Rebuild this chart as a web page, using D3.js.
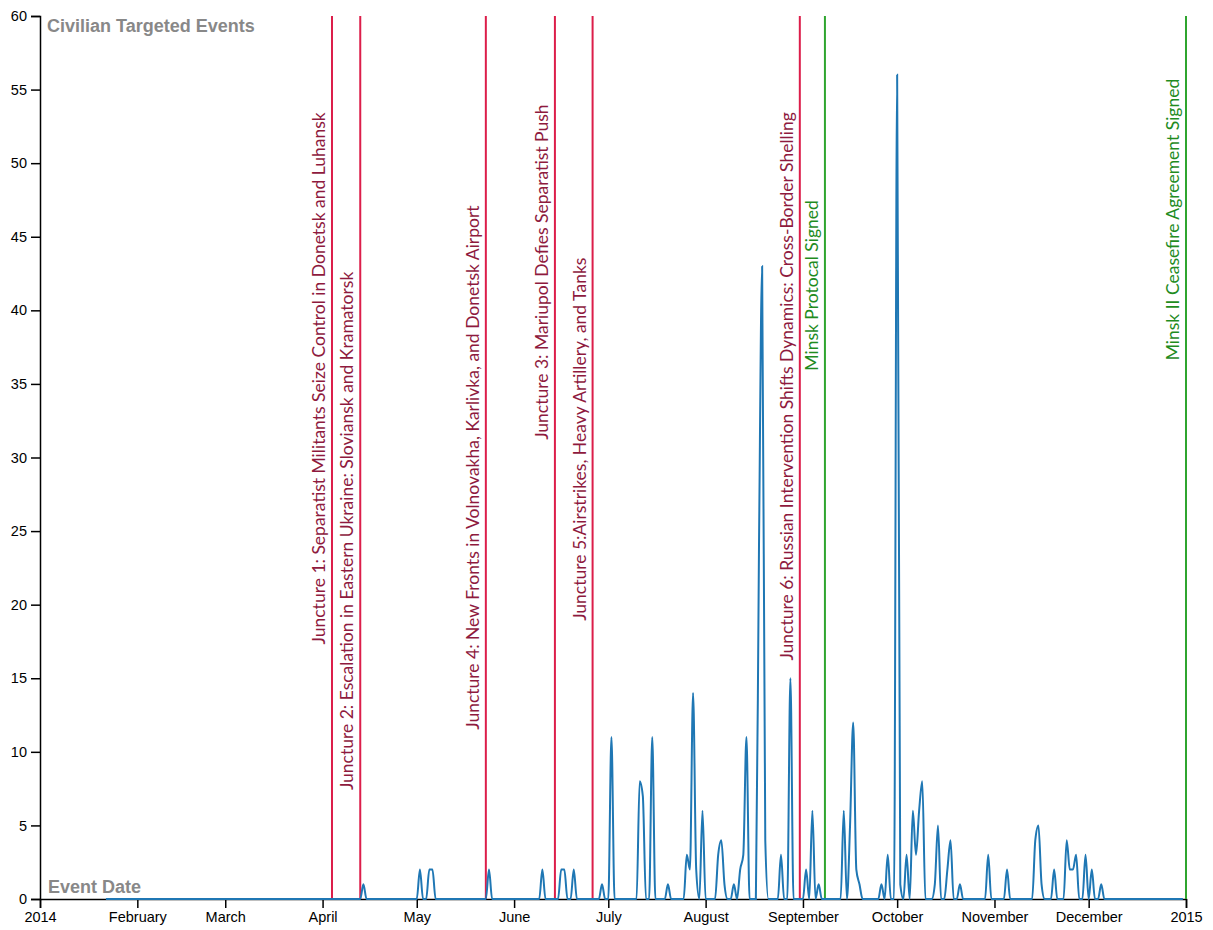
<!DOCTYPE html>
<html>
<head>
<meta charset="utf-8">
<script src="https://cdn.jsdelivr.net/npm/d3@7"></script>
<style>
  html, body { margin: 0; padding: 0; background: #fff; }
  svg { display: block; }
</style>
</head>
<body>
<svg id="chart" width="1213" height="930"></svg>
<script>
// ---------------- data ----------------
const seriesStart = "2014-01-22";
const seriesEnd = "2014-12-31";

const eventDays = [
  "2014-04-14","2014-05-02","2014-05-05","2014-05-06","2014-05-24","2014-06-10",
  "2014-06-16","2014-06-17","2014-06-20","2014-06-29","2014-07-02","2014-07-11",
  "2014-07-12","2014-07-15","2014-07-20","2014-07-26","2014-07-27","2014-07-28",
  "2014-07-29","2014-07-31","2014-08-05","2014-08-06","2014-08-07","2014-08-10",
  "2014-08-12","2014-08-13","2014-08-14","2014-08-18","2014-08-19","2014-08-20",
  "2014-08-25","2014-08-28","2014-09-02","2014-09-04","2014-09-06","2014-09-14",
  "2014-09-16","2014-09-17","2014-09-18","2014-09-19","2014-09-26","2014-09-28",
  "2014-10-01","2014-10-02","2014-10-04","2014-10-06","2014-10-07","2014-10-08",
  "2014-10-09","2014-10-13","2014-10-14","2014-10-17","2014-10-18","2014-10-21",
  "2014-10-30","2014-11-05","2014-11-14","2014-11-15","2014-11-16","2014-11-20",
  "2014-11-24","2014-11-25","2014-11-26","2014-11-27","2014-11-30","2014-12-02",
  "2014-12-05"
];
const eventCounts = [
  1, 2, 2, 2, 2, 2,
  2, 2, 2, 1, 11, 8,
  7, 11, 1, 3, 2, 14,
  2, 6, 3, 4, 1, 1,
  2, 3, 11, 24, 43, 4,
  3, 15, 2, 6, 1, 6,
  5, 12, 2, 1, 1, 3,
  56, 1, 3, 6, 3, 6,
  8, 1, 5, 2, 4, 1,
  3, 2, 4, 5, 1, 2,
  4, 2, 2, 3, 3, 2,
  1
];

const markerDates = ["2014-04-04","2014-04-13","2014-05-23","2014-06-14","2014-06-26","2014-08-31","2014-09-08","2015-01-01"];
const markerLabels = [
  "Juncture 1: Separatist Militants Seize Control in Donetsk and Luhansk",
  "Juncture 2: Escalation in Eastern Ukraine: Sloviansk and Kramatorsk",
  "Juncture 4: New Fronts in Volnovakha, Karlivka, and Donetsk Airport",
  "Juncture 3: Mariupol Defies Separatist Push",
  "Juncture 5:Airstrikes, Heavy Artillery, and Tanks",
  "Juncture 6: Russian Intervention Shifts Dynamics: Cross-Border Shelling",
  "Minsk Protocal Signed",
  "Minsk II Ceasefire Agreement Signed"
];
const markerKinds = ["juncture","juncture","juncture","juncture","juncture","juncture","agreement","agreement"];

const xDomain = ["2014-01-01", "2015-01-01"];
const yDomain = [0, 60];
const xTickDates = ["2014-01-01","2014-02-01","2014-03-01","2014-04-01","2014-05-01","2014-06-01","2014-07-01","2014-08-01","2014-09-01","2014-10-01","2014-11-01","2014-12-01","2015-01-01"];
const xTickLabels = ["2014","February","March","April","May","June","July","August","September","October","November","December","2015"];
const yTickValues = [0,5,10,15,20,25,30,35,40,45,50,55,60];
const yAxisTitle = "Civilian Targeted Events";
const xAxisTitle = "Event Date";

// ---------------- layout (not data) ----------------
const labelStartValues = [17.3, 7.4, 11.5, 31.2, 18.9, 16.2, 35.9, 36.6]; // where each rotated label begins, in y units
const margin = { left: 40, right: 27, top: 16, bottom: 31 };
const W = 1213, H = 930;

const parse = d3.utcParse("%Y-%m-%d");

// daily table: days without events count as zero
const countByDay = new Map(eventDays.map((d, i) => [+parse(d), eventCounts[i]]));
const days = d3.utcDay.range(parse(seriesStart), d3.utcDay.offset(parse(seriesEnd), 1));
const series = days.map(d => ({ date: d, value: countByDay.get(+d) || 0 }));

const x = d3.scaleUtc().domain(xDomain.map(parse)).range([margin.left, W - margin.right]);
const y = d3.scaleLinear().domain(yDomain).range([H - margin.bottom, margin.top]);

const svg = d3.select("#chart");
const fontAxis = "'Liberation Sans', Arial, Helvetica, sans-serif";

// axes
const xAxis = d3.axisBottom(x)
  .tickValues(xTickDates.map(parse))
  .tickFormat((d, i) => xTickLabels[i])
  .tickSize(9).tickPadding(4);
const yAxis = d3.axisLeft(y)
  .tickValues(yTickValues)
  .tickSize(9).tickPadding(4);

const gx = svg.append("g").attr("transform", `translate(0,${y(0)})`).call(xAxis);
const gy = svg.append("g").attr("transform", `translate(${x(parse(xDomain[0]))},0)`).call(yAxis);
[gx, gy].forEach(g => {
  g.selectAll("text").attr("font-family", fontAxis).attr("font-size", 14.5).attr("fill", "#000");
  g.selectAll("path, line").attr("stroke", "#000").attr("stroke-width", 1.5);
});

// axis titles
svg.append("text").attr("x", 47).attr("y", 31.5)
  .attr("font-family", fontAxis).attr("font-weight", "bold").attr("font-size", 18)
  .attr("fill", "#888").text(yAxisTitle);
svg.append("text").attr("x", 48).attr("y", 893)
  .attr("font-family", fontAxis).attr("font-weight", "bold").attr("font-size", 18)
  .attr("fill", "#888").text(xAxisTitle);

// markers
const lineColor = { juncture: "#dc1e4a", agreement: "#2fa52f" };
const textColor = { juncture: "#8e1a3e", agreement: "#1f8c1f" };
const markers = markerDates.map((d, i) => ({ date: parse(d), label: markerLabels[i], kind: markerKinds[i], start: labelStartValues[i] }));

const gm = svg.append("g");
gm.selectAll("line").data(markers).join("line")
  .attr("x1", d => x(d.date)).attr("x2", d => x(d.date))
  .attr("y1", y(yDomain[1])).attr("y2", y(0))
  .attr("stroke", d => lineColor[d.kind]).attr("stroke-width", 2);
gm.selectAll("text").data(markers).join("text")
  .attr("transform", d => `translate(${x(d.date) - 7},${y(d.start)}) rotate(-90)`)
  .attr("font-family", "Lato, 'Open Sans', sans-serif")
  .attr("font-size", 17.5)
  .attr("fill", d => textColor[d.kind])
  .attr("text-anchor", "start")
  .text(d => d.label);

// data line
const line = d3.line()
  .x(d => x(d.date))
  .y(d => y(d.value))
  .curve(d3.curveMonotoneX);
svg.append("path").datum(series)
  .attr("d", line)
  .attr("fill", "none")
  .attr("stroke", "#1f77b4")
  .attr("stroke-width", 2);
</script>
</body>
</html>
